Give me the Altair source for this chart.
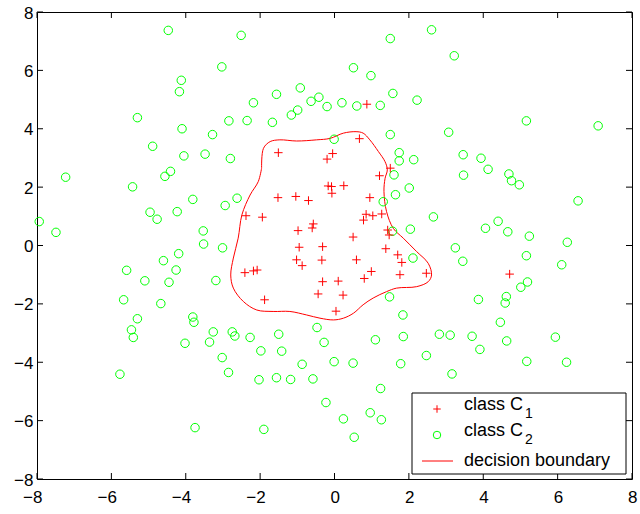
import altair as alt
import pandas as pd

# ---------------- data ----------------
c1_x = [0.87, 1.50, -1.51, -0.20, -0.05, 0.67, 1.21, -0.17, -0.08, 0.25, -0.07, -1.52, -1.04,
        -0.70, 0.95, -2.38, -1.94, 0.85, 1.03, 1.27, 0.78, -0.57, -0.60, -0.98, 1.43, 1.47,
        0.50, -0.95, -0.32, 1.38, -1.02, -0.87, -0.34, 0.59, 1.70, 1.81, -2.41, -2.18, -2.08,
        0.99, 0.80, 1.76, 2.47, -0.32, 0.10, -0.44, 0.23, -1.88, 0.04, 4.71]
c1_y = [4.84, 2.65, 3.18, 2.96, 3.15, 3.66, 2.39, 2.04, 2.02, 2.05, 1.79, 1.64, 1.68,
        1.54, 1.64, 1.02, 0.97, 1.07, 1.02, 1.08, 0.87, 0.74, 0.60, 0.51, 0.53, 0.36,
        0.29, -0.06, -0.04, -0.11, -0.49, -0.69, -0.50, -0.49, -0.32, -0.58, -0.93, -0.87, -0.84,
        -0.89, -1.13, -1.00, -0.95, -1.24, -1.22, -1.66, -1.70, -1.86, -2.25, -0.98]

c2_x = [-4.47, -3.03, -4.12, -4.17, -5.30, -2.84, -4.10, -3.28, -4.89, -4.05, -3.48, -2.80,
        -7.23, -7.94, -7.49, -5.43, -4.56, -4.41, -3.81, -4.96, -4.77, -4.23, -2.94, -3.53,
        -3.52, -3.01, -4.19, -4.60, -5.59, -4.26, -5.10, -4.45, -3.19, -5.67, -4.67, -5.30,
        -3.81, -3.78, -2.62,
        -5.46, -5.41, -4.02, -3.36, -3.26, -2.75, -2.68, -3.02, -2.85, -5.77, -3.75,
        -2.27, -1.50, -0.47, -1.98, -1.42, -0.28, -0.87, -0.01, 0.50, 1.10, 1.85, 1.78, 2.47,
        -2.03, -1.56, -1.18, -0.58, 1.24, -0.23, 0.96, 0.24, 1.26, -1.90, 0.53,
        4.46, 2.82, 3.11, 3.70, 4.63, 5.94, 3.91, 5.17, 6.24, 3.16,
        3.47, 4.13, 4.69, 4.76, 4.97, 6.55, 2.66, 4.06, 4.40, 4.66, 5.24, 6.26, 3.25, 3.45,
        5.16, 6.11, 5.19, 5.01, 3.87, 4.62, 4.59,
        2.61, 3.22, 5.16, 7.09, 3.07, 3.46, 3.94,
        -2.51, 1.50, 0.51, 0.98, -0.92, -1.56, -2.18, -0.63, -0.42, 1.57, -0.20, 0.20, 0.60,
        1.23, 2.22, -1.16, -0.99, -2.35, -1.67, 1.50, -0.01, 1.74, 1.74, 2.13,
        1.60, 2.01, 1.64, 1.31, 1.56, 2.04, 2.11, 1.48, 1.84]
c2_y = [7.37, 6.12, 5.66, 5.27, 4.38, 4.27, 4.00, 3.80, 3.40, 3.07, 3.13, 2.98,
        2.34, 0.82, 0.45, 2.01, 2.37, 2.54, 1.58, 1.14, 0.90, 1.16, 1.37, 0.50,
        0.05, -0.08, -0.28, -0.52, -0.85, -0.84, -1.21, -1.26, -1.20, -1.86, -1.99, -2.51,
        -2.45, -2.63, 1.62,
        -2.89, -3.15, -3.35, -3.31, -2.96, -2.96, -3.10, -3.84, -4.35, -4.41, -6.24,
        -3.15, -3.04, -2.81, -3.61, -3.62, -3.32, -4.07, -3.98, -4.03, -3.23, -3.12, -4.05, -3.77,
        -4.60, -4.53, -4.59, -4.57, -4.90, -5.38, -5.73, -5.94, -5.97, -6.30, -6.57,
        -2.63, -3.04, -3.07, -3.11, -3.27, -3.14, -3.56, -3.97, -4.00, -4.40,
        2.41, 2.61, 2.45, 2.22, 2.08, 1.53, 0.98, 0.59, 0.83, 0.47, 0.32, 0.11, -0.08, -0.54,
        -0.35, -0.66, -1.25, -1.43, -1.85, -1.75, -1.97,
        7.39, 6.50, 4.27, 4.10, 3.88, 3.11, 2.99,
        7.20, 7.09, 6.09, 5.82, 5.40, 5.18, 4.89, 4.94, 5.08, 5.21, 4.76, 4.89, 4.78,
        4.80, 4.98, 4.47, 4.64, 4.28, 4.22, 3.80, 3.64, 3.18, 2.90, 2.94,
        2.42, 1.97, 1.74, 1.50, 0.49, 0.56, -0.43, -1.76, -2.38]

bd_x = [-1.96, -1.91, -1.73, -1.47, -1.02, -0.48, -0.12, 0.24, 0.58, 0.77, 0.95, 1.18, 1.36,
        1.42, 1.36, 1.33, 1.40, 1.58, 1.85, 2.21, 2.52, 2.61, 2.52, 2.21, 1.67, 1.40, 1.04,
        0.77, 0.51, 0.24, -0.03, -0.39, -0.75, -1.20, -1.65, -2.09, -2.45, -2.72, -2.79,
        -2.72, -2.59, -2.49, -2.27, -2.05, -1.96]
bd_y = [2.65, 3.33, 3.56, 3.62, 3.58, 3.62, 3.67, 3.85, 3.90, 3.85, 3.62, 3.22, 2.87,
        2.59, 2.30, 1.85, 1.16, 0.59, 0.25, -0.21, -0.61, -1.01, -1.24, -1.41, -1.46, -1.58, -1.80,
        -2.03, -2.32, -2.49, -2.55, -2.49, -2.38, -2.26, -2.26, -2.21, -1.92, -1.46, -1.01,
        -0.43, 0.25, 1.05, 1.73, 2.19, 2.65]

tick_values = [-8, -6, -4, -2, 0, 2, 4, 6, 8]
legend_labels = ["class C", "class C", "decision boundary"]
legend_subs = ["1", "2"]

# ---------------- styling ----------------
W, H = 595, 467
FONT = "Liberation Sans"
RED = "#ff0000"
GREEN = "#00ff00"
PLUS = "M-1,0H1M0,-1V1"
MSIZE = 72

xs = alt.Scale(domain=[-8, 8], nice=False, zero=False)
ys = alt.Scale(domain=[-8, 8], nice=False, zero=False)

xaxis = alt.Axis(values=tick_values, title=None, grid=False, domain=False, ticks=False,
                 tickSize=0, labelFont=FONT, labelFontSize=17, labelAlign="right",
                 labelOffset=5, labelPadding=10, labelBaseline="top", labelFlush=False,
                 labelColor="black", labelOverlap=False)
yaxis = alt.Axis(values=tick_values, title=None, grid=False, domain=False, ticks=False,
                 tickSize=0, labelFont=FONT, labelFontSize=17, labelPadding=4,
                 labelFlush=False, labelColor="black", labelBaseline="middle",
                 labelOffset=1, labelOverlap=False)

X = lambda f: alt.X(f, scale=xs, axis=xaxis)
Y = lambda f: alt.Y(f, scale=ys, axis=yaxis)

bd = pd.DataFrame({"x": bd_x, "y": bd_y, "i": list(range(len(bd_x)))})
boundary = alt.Chart(bd).mark_line(color=RED, strokeWidth=1, interpolate="catmull-rom").encode(
    x=X("x:Q"), y=Y("y:Q"), order="i:Q")

c1 = alt.Chart(pd.DataFrame({"x": c1_x, "y": c1_y})).mark_point(
    shape=PLUS, filled=False, stroke=RED, size=MSIZE, strokeWidth=1, opacity=1
).encode(x=X("x:Q"), y=Y("y:Q"))

c2 = alt.Chart(pd.DataFrame({"x": c2_x, "y": c2_y})).mark_point(
    shape="circle", filled=False, stroke=GREEN, size=MSIZE, strokeWidth=1, opacity=1
).encode(x=X("x:Q"), y=Y("y:Q"))

tk = pd.DataFrame({"v": tick_values})
TL = 6
tick_b = alt.Chart(tk).mark_rule(color="black", strokeWidth=1).encode(
    x=X("v:Q"), y=alt.value(H), y2=alt.value(H - TL))
tick_t = alt.Chart(tk).mark_rule(color="black", strokeWidth=1).encode(
    x=X("v:Q"), y=alt.value(0), y2=alt.value(TL))
tick_l = alt.Chart(tk).mark_rule(color="black", strokeWidth=1).encode(
    y=Y("v:Q"), x=alt.value(0), x2=alt.value(TL))
tick_r = alt.Chart(tk).mark_rule(color="black", strokeWidth=1).encode(
    y=Y("v:Q"), x=alt.value(W), x2=alt.value(W - TL))

# ---------------- legend (drawn by hand, MATLAB style) ----------------
one = pd.DataFrame({"d": [0]})
LX0, LX1, LY0, LY1 = 375, 589, 381, 462
leg_box = alt.Chart(one).mark_rect(fill="white", stroke="black", strokeWidth=1).encode(
    x=alt.value(LX0), x2=alt.value(LX1), y=alt.value(LY0), y2=alt.value(LY1))
leg_plus = alt.Chart(one).mark_point(shape=PLUS, filled=False, stroke=RED, size=56,
                                     strokeWidth=1, opacity=1).encode(
    x=alt.value(400), y=alt.value(397))
leg_circ = alt.Chart(one).mark_point(shape="circle", filled=False, stroke=GREEN, size=56,
                                     strokeWidth=1, opacity=1).encode(
    x=alt.value(400), y=alt.value(423))
leg_line = alt.Chart(one).mark_rule(color=RED, strokeWidth=1).encode(
    x=alt.value(385), x2=alt.value(416), y=alt.value(449))

def txt(s, x, y, size=18):
    return alt.Chart(one).mark_text(text=s, font=FONT, fontSize=size, align="left",
                                    baseline="alphabetic", color="black").encode(
        x=alt.value(x), y=alt.value(y))

leg_txt = [
    txt(legend_labels[0], 427, 398), txt(legend_subs[0], 488, 406, 14),
    txt(legend_labels[1], 427, 424), txt(legend_subs[1], 488, 432, 14),
    txt(legend_labels[2], 427, 454),
]

chart = alt.layer(
    boundary, c2, c1, tick_b, tick_t, tick_l, tick_r,
    leg_box, leg_plus, leg_circ, leg_line, *leg_txt
).properties(
    width=W, height=H,
    padding={"left": 37, "top": 12, "right": 8, "bottom": 35},
    autosize=alt.AutoSizeParams(type="none"),
    background="white",
).configure_view(stroke="black", strokeWidth=1)

chart.save("out.html", embed_options={"renderer": "svg", "actions": False})
